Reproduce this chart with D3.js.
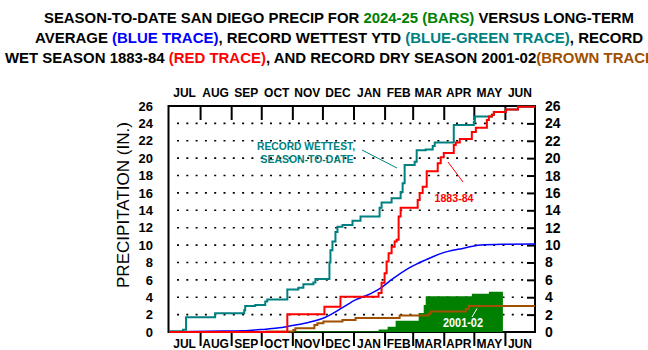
<!DOCTYPE html>
<html>
<head>
<meta charset="utf-8">
<script src="https://cdn.jsdelivr.net/npm/d3@7"></script>
<style>
  body { margin: 0; background: #fff; }
  text { font-family: Arial, "Liberation Sans", sans-serif; }
</style>
</head>
<body>
<div id="chart"></div>
<script>
// Season-to-date San Diego precipitation, July 1 through June 30.
// Days are counted from July 1 (day 0) to June 30 (day 365).

const months = ["JUL", "AUG", "SEP", "OCT", "NOV", "DEC", "JAN", "FEB", "MAR", "APR", "MAY", "JUN"];
const monthStarts = [0, 31, 62, 92, 123, 153, 184, 215, 243, 274, 304, 335, 365];
const yTicks = [0, 2, 4, 6, 8, 10, 12, 14, 16, 18, 20, 22, 24, 26];

// 2024-25 season (green bars), [day, inches to date]
const season2025 = [[0, 0], [124, 0.08], [209, 0.3], [218, 0.6], [226, 1.3], [249, 2.2], [254, 3.1],
  [256, 4.1], [302, 4.4], [319, 4.62], [333, 4.62]];

// long-term average (blue trace)
const averageTrace = [[0, 0], [38, 0.1], [74, 0.15], [94, 0.3], [108, 0.45], [123, 0.75], [139, 1.1],
  [156, 1.7], [173, 2.8], [186, 3.7], [197, 4.2], [211, 5.05], [223, 6.1], [240, 7.4], [256, 8.3],
  [273, 9.1], [290, 9.55], [311, 10.0], [332, 10.1], [365, 10.13]];

// record wettest season-to-date (blue-green trace)
const wettestTrace = [[0, 0.1], [14, 0.25], [17, 1.7], [46, 2.15], [75, 2.5], [76, 3.0], [86, 3.1],
  [96, 3.5], [98, 3.75], [118, 4.9], [129, 5.1], [134, 5.5], [144, 5.7], [146, 6.1], [160, 8.0],
  [161, 9.4], [163, 10.4], [166, 11.5], [168, 12.1], [173, 12.3], [183, 12.8], [191, 13.3],
  [210, 14.3], [212, 14.9], [222, 15.4], [231, 16.1], [233, 17.1], [235, 19.2], [245, 19.6],
  [247, 20.9], [256, 21.0], [263, 21.4], [265, 21.8], [284, 23.8], [304, 24.2], [305, 24.8],
  [322, 25.0], [324, 25.3], [336, 25.6], [348, 25.9], [365, 25.9]];

// record wet season 1883-84 (red trace)
const wet1883Trace = [[0, 0], [118, 2.04], [155, 2.9], [171, 4.06], [209, 4.5], [212, 5.67], [215, 6.75],
  [217, 8.1], [219, 9.05], [222, 9.8], [225, 10.4], [227, 10.6], [229, 13.3], [231, 14.3], [248, 15.2],
  [250, 16.0], [253, 16.7], [257, 18.5], [268, 19.4], [271, 20.1], [274, 20.6], [284, 21.5],
  [286, 21.8], [290, 22.2], [302, 23.0], [306, 23.5], [317, 24.4], [319, 24.8], [322, 25.0],
  [324, 25.3], [336, 25.6], [348, 25.9], [365, 25.9]];

// record dry season 2001-02 (brown trace)
const dry2001Trace = [[0, 0], [97, 0.05], [124, 0.23], [126, 0.42], [145, 0.8], [148, 1.0], [154, 1.2],
  [173, 1.38], [186, 1.6], [230, 1.9], [259, 2.1], [261, 2.35], [296, 2.65], [299, 3.0], [365, 3.0]];

const green = "#008000", blue = "#0000ff", teal = "#008080", red = "#ff0000", brown = "#a05000";

const svg = d3.select("#chart")
  .append("svg")
  .attr("width", 648)
  .attr("height", 350);

const x = d3.scaleLinear().domain([0, 365]).range([169, 535]);
const y = d3.scaleLinear().domain([0, 26]).range([332, 106]);

// title, three lines with coloured parts (the last one runs off the right edge, as in the original)
const titleLines = [
  { x: 44, len: 590, parts: [["SEASON-TO-DATE SAN DIEGO PRECIP FOR ", "#000"], ["2024-25 (BARS)", green], [" VERSUS LONG-TERM", "#000"]] },
  { x: 35, len: 608, parts: [["AVERAGE ", "#000"], ["(BLUE TRACE)", blue], [", RECORD WETTEST YTD ", "#000"], ["(BLUE-GREEN TRACE)", teal], [", RECORD", "#000"]] },
  { x: 5, len: 655, parts: [["WET SEASON 1883-84 ", "#000"], ["(RED TRACE)", red], [", AND RECORD DRY SEASON 2001-02", "#000"], ["(BROWN TRACE)", brown]] }
];
titleLines.forEach(function (line, i) {
  const t = svg.append("text")
    .attr("x", line.x)
    .attr("y", 23 + i * 20)
    .attr("font-size", 15)
    .attr("font-weight", "bold")
    .attr("textLength", line.len)
    .attr("lengthAdjust", "spacingAndGlyphs");
  line.parts.forEach(function (p) {
    t.append("tspan").attr("fill", p[1]).text(p[0]);
  });
});

// dotted grid lines
svg.append("g")
  .selectAll("line")
  .data(yTicks.filter(d => d > 0 && d < 26))
  .enter()
  .append("line")
  .attr("x1", 177)
  .attr("x2", 527)
  .attr("y1", d => y(d))
  .attr("y2", d => y(d))
  .attr("stroke", "#000")
  .attr("stroke-width", 1.6)
  .attr("stroke-dasharray", "2,7.3");

// frame
svg.append("rect")
  .attr("x", x(0) - 0.5)
  .attr("y", y(26))
  .attr("width", x(365) - x(0) + 0.5)
  .attr("height", y(0) - y(26))
  .attr("fill", "none")
  .attr("stroke", "#000")
  .attr("stroke-width", 2);

// month ticks top (inside) and bottom (outside)
const innerMonths = monthStarts.slice(1, 12);
svg.append("g")
  .attr("transform", `translate(0, ${y(26)})`)
  .call(d3.axisBottom(x).tickValues(innerMonths).tickSize(14).tickFormat(""))
  .call(g => g.select(".domain").remove())
  .selectAll("line").attr("stroke-width", 2);
svg.append("g")
  .attr("transform", `translate(0, ${y(0)})`)
  .call(d3.axisBottom(x).tickValues(innerMonths).tickSize(14).tickFormat(""))
  .call(g => g.select(".domain").remove())
  .selectAll("line").attr("stroke-width", 2);

// month labels, centred in each month
const monthMid = months.map((m, i) => (monthStarts[i] + monthStarts[i + 1]) / 2);
[97, 348].forEach(function (base) {
  svg.append("g")
    .selectAll("text")
    .data(months)
    .enter()
    .append("text")
    .attr("x", (d, i) => x(monthMid[i]))
    .attr("y", base)
    .attr("text-anchor", "middle")
    .attr("font-size", 12)
    .attr("font-weight", "bold")
    .text(d => d);
});

// left axis labels
svg.append("g")
  .attr("transform", `translate(${x(0)}, 0)`)
  .call(d3.axisLeft(y).tickValues(yTicks).tickSize(0).tickPadding(16))
  .call(g => g.select(".domain").remove())
  .selectAll("text")
  .attr("font-size", 13)
  .attr("font-weight", "bold")
  .attr("font-family", "Arial, 'Liberation Sans', sans-serif")
  .attr("fill", "#000");

// right axis, inward ticks plus labels
svg.append("g")
  .attr("transform", `translate(${x(365)}, 0)`)
  .call(d3.axisRight(y).tickValues(yTicks.filter(d => d > 0 && d < 26)).tickSize(-8).tickFormat(""))
  .call(g => g.select(".domain").remove())
  .selectAll("line").attr("stroke-width", 2);
svg.append("g")
  .attr("transform", `translate(${x(365)}, 0)`)
  .call(d3.axisRight(y).tickValues(yTicks).tickSize(0).tickPadding(10))
  .call(g => g.select(".domain").remove())
  .selectAll("text")
  .attr("font-size", 14)
  .attr("font-weight", "bold")
  .attr("font-family", "Arial, 'Liberation Sans', sans-serif")
  .attr("fill", "#000");

// y axis title
svg.append("text")
  .attr("transform", "translate(129, 205) rotate(-90)")
  .attr("text-anchor", "middle")
  .attr("font-size", 16)
  .attr("textLength", 166)
  .attr("lengthAdjust", "spacingAndGlyphs")
  .text("PRECIPITATION (IN.)");

// 2024-25 bars as a stepped area
const area = d3.area()
  .x(d => x(d[0]))
  .y0(y(0))
  .y1(d => y(d[1]))
  .curve(d3.curveStepAfter);
svg.append("path")
  .datum(season2025)
  .attr("d", area)
  .attr("fill", green);

const stepLine = d3.line()
  .x(d => x(d[0]))
  .y(d => y(d[1]))
  .curve(d3.curveStepAfter);

svg.append("path")
  .datum(dry2001Trace)
  .attr("d", stepLine)
  .attr("fill", "none")
  .attr("stroke", brown)
  .attr("stroke-width", 2);

svg.append("path")
  .datum(averageTrace)
  .attr("d", d3.line().x(d => x(d[0])).y(d => y(d[1])).curve(d3.curveMonotoneX))
  .attr("fill", "none")
  .attr("stroke", blue)
  .attr("stroke-width", 1.5);

svg.append("path")
  .datum(wettestTrace)
  .attr("d", stepLine)
  .attr("fill", "none")
  .attr("stroke", teal)
  .attr("stroke-width", 2);

svg.append("path")
  .datum(wet1883Trace)
  .attr("d", stepLine)
  .attr("fill", "none")
  .attr("stroke", red)
  .attr("stroke-width", 2);

// annotations
const note = svg.append("g")
  .attr("font-weight", "bold")
  .attr("text-anchor", "middle");

note.append("text").attr("x", 306).attr("y", 149.5).attr("font-size", 11).attr("fill", teal)
  .attr("textLength", 98).attr("lengthAdjust", "spacingAndGlyphs").text("RECORD WETTEST,");
note.append("text").attr("x", 307).attr("y", 163).attr("font-size", 11).attr("fill", teal)
  .attr("textLength", 93).attr("lengthAdjust", "spacingAndGlyphs").text("SEASON-TO-DATE");
svg.append("line").attr("x1", 362).attr("y1", 150).attr("x2", 397).attr("y2", 168)
  .attr("stroke", teal).attr("stroke-width", 1);

note.append("text").attr("x", 454).attr("y", 201.5).attr("font-size", 11).attr("fill", red)
  .attr("textLength", 39).attr("lengthAdjust", "spacingAndGlyphs").text("1883-84");
svg.append("line").attr("x1", 448).attr("y1", 162).attr("x2", 463).attr("y2", 182)
  .attr("stroke", red).attr("stroke-width", 1);

note.append("text").attr("x", 463).attr("y", 327).attr("font-size", 12).attr("fill", "#fff")
  .attr("textLength", 40).attr("lengthAdjust", "spacingAndGlyphs").text("2001-02");
svg.append("line").attr("x1", 472).attr("y1", 317).attr("x2", 477).attr("y2", 308.5)
  .attr("stroke", "#fff").attr("stroke-width", 1);
</script>
</body>
</html>
